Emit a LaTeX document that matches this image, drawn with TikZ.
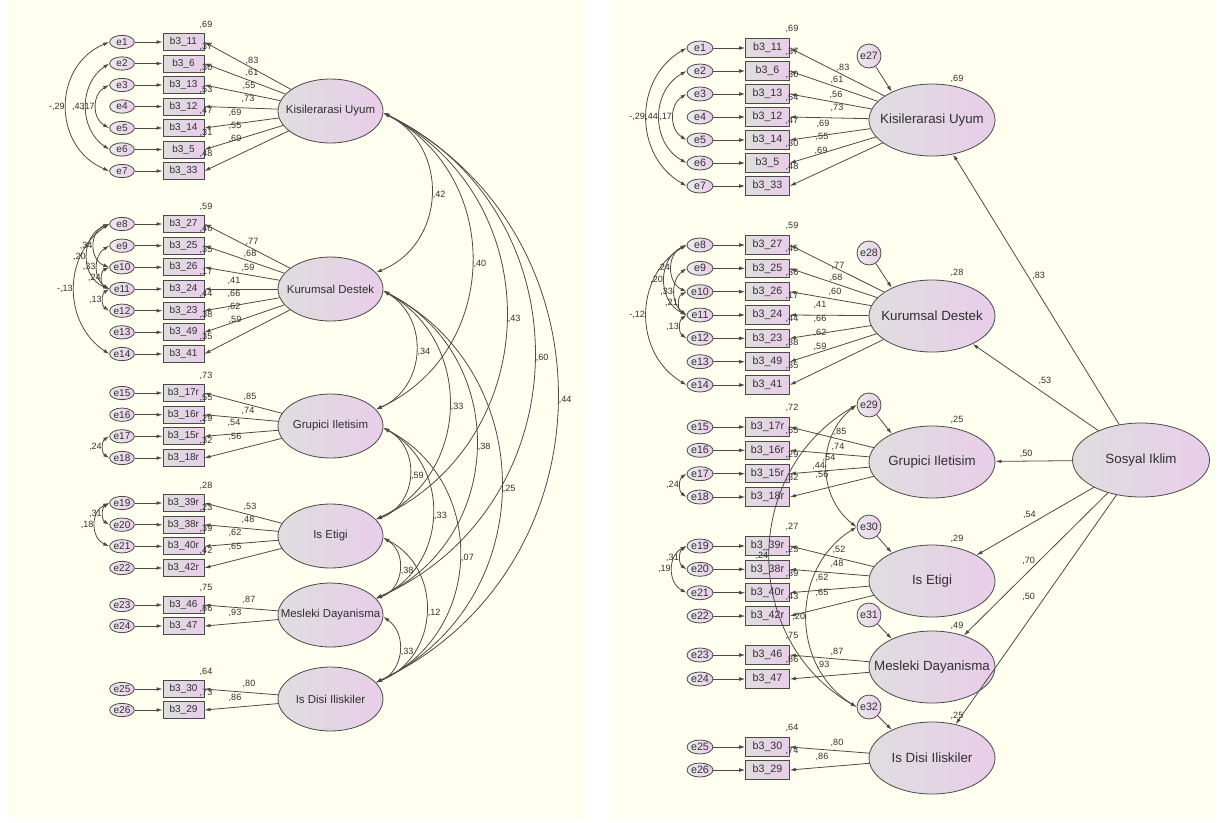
\documentclass[tikz,border=0pt]{standalone}
\usepackage{fontspec}
\setmainfont{Liberation Sans}
\usetikzlibrary{shapes.geometric,arrows.meta}
\definecolor{bgc}{HTML}{FFFFF0}
\definecolor{linec}{HTML}{4A4A4A}
\definecolor{fillL}{HTML}{DEDEDE}
\definecolor{fillR}{HTML}{E9CDE9}
\definecolor{txtc}{HTML}{303030}
\tikzset{
  ln/.style={draw=linec, line width=0.6pt},
  arr/.style={ln, ->},
  cov/.style={ln, <->},
  lat/.style={ellipse, draw=linec, line width=0.6pt, left color=fillL, right color=fillR, inner sep=0pt, inner xsep=-18pt, text=txtc},
  latL/.style={lat, minimum width=78.75pt, minimum height=48pt, font=\fontsize{8.6}{10}\selectfont},
  latR/.style={lat, minimum width=94.5pt, minimum height=54pt, font=\fontsize{10}{12}\selectfont},
  err/.style={ellipse, draw=linec, line width=0.6pt, left color=fillL!60!white, right color=fillR, inner sep=0pt, text=txtc},
  errL/.style={err, minimum width=18.5pt, minimum height=10pt, font=\fontsize{7.5}{9}\selectfont},
  errR/.style={err, minimum width=19.5pt, minimum height=10.5pt, font=\fontsize{8}{9}\selectfont},
  dist/.style={circle, draw=linec, line width=0.6pt, left color=fillL!60!white, right color=fillR, inner sep=0pt, minimum size=18pt, font=\fontsize{8}{9}\selectfont, text=txtc},
  obs/.style={rectangle, draw=linec, line width=0.6pt, left color=fillL, right color=fillR, inner sep=0pt, text=txtc},
  obsL/.style={obs, minimum width=30.75pt, minimum height=12.75pt, font=\fontsize{7.5}{9}\selectfont},
  obsR/.style={obs, minimum width=32.8pt, minimum height=13.7pt, font=\fontsize{8}{9}\selectfont},
  num/.style={inner sep=1pt, font=\fontsize{6.8}{8}\selectfont, text=txtc},
}
\begin{document}
\begin{tikzpicture}[x=0.75pt,y=0.75pt,>={Latex[length=4.5pt,width=2.8pt]}]
\useasboundingbox (0,0) rectangle (1220,-822);
\fill[white] (0,0) rectangle (1220,-822);
\fill[bgc] (8,0) rectangle (587,-818);
\fill[bgc] (610,0) rectangle (1216,-818);

% ---------------- LEFT PANEL ----------------
\foreach \i/\y/\b/\r in {1/42/11/{,69}, 2/63.5/6/{,37}, 3/85/13/{,30}, 4/106.5/12/{,53}, 5/128/14/{,47}, 6/149.5/5/{,31}, 7/171/33/{,48}, 8/224/27/{,59}, 9/245.7/25/{,46}, 10/267.3/26/{,35}, 11/289/24/{,17}, 12/310.7/23/{,44}, 13/332.3/49/{,38}, 14/354/41/{,35}, 15/393/17r/{,73}, 16/414.7/16r/{,55}, 17/436.3/15r/{,29}, 18/458/18r/{,32}, 19/503/39r/{,28}, 20/524.7/38r/{,23}, 21/546.3/40r/{,39}, 22/568/42r/{,42}, 23/605/46/{,75}, 24/626/47/{,86}, 25/689/30/{,64}, 26/710/29/{,73}}{
  \node[errL] (Le\i) at (122,-\y) {e\i};
  \node[obsL] (Lb\i) at (183.5,-\y) {b3\_\b};
  \node[num] (Lr\i) at (206,-\y+17) {\r};
  \draw[arr] (Le\i) -- (Lb\i);
}
\node[latL] (LK) at (330.5,-111) {Kisilerarasi Uyum};
\node[latL] (LKD) at (330.5,-289) {Kurumsal Destek};
\node[latL] (LG) at (330.5,-426) {Grupici Iletisim};
\node[latL] (LIE) at (330.5,-536) {Is Etigi};
\node[latL] (LM) at (330.5,-615) {Mesleki Dayanisma};
\node[latL] (LID) at (330.5,-699) {Is Disi Iliskiler};

\foreach \L/\i/\x/\y/\t in {LK/1/252/61/{,83}, LK/2/252/73/{,61}, LK/3/249/86/{,55}, LK/4/248/99/{,73}, LK/5/235/113/{,69}, LK/6/235/126/{,55}, LK/7/235/139/{,69}, LKD/8/252/242/{,77}, LKD/9/250/254/{,68}, LKD/10/248/268/{,59}, LKD/11/234/281/{,41}, LKD/12/234/294/{,66}, LKD/13/234/307/{,62}, LKD/14/235/320/{,59}, LG/15/250/397/{,85}, LG/16/248/411/{,74}, LG/17/234/423/{,54}, LG/18/235/437/{,56}, LIE/19/250/507/{,53}, LIE/20/248/520/{,48}, LIE/21/235/533/{,62}, LIE/22/235/547/{,65}, LM/23/249/600/{,87}, LM/24/235/613/{,93}, LID/25/249/684/{,80}, LID/26/235/698/{,86}}{
  \draw[arr] (\L) -- (Lb\i.east);
  \node[num] (Ll\i) at (\x,-\y) {\t};
}

\foreach \cA/\cB/\cL/\cH/\cT in {LK/LKD/161/52/{,42}, LK/LG/299/93/{,40}, LK/LIE/408/127/{,43}, LK/LM/487/155/{,60}, LK/LID/571/178/{,44}, LKD/LG/121/37/{,34}, LKD/LIE/230/70/{,33}, LKD/LM/309/97/{,38}, LKD/LID/393/122/{,25}, LG/LIE/92/30/{,59}, LG/LM/171/53/{,33}, LG/LID/255/80/{,07}, LIE/LM/62/20/{,38}, LIE/LID/146/47/{,12}, LM/LID/67/20/{,33}}{
  \pgfmathsetmacro\cAl{2*atan(2*\cH/\cL)}
  \pgfmathsetmacro\cLo{0.8514/(cos(\cAl/2))^2}
  \draw[cov] (\cA.-2) to[bend left=\cAl, looseness=\cLo] node[num, midway, right] (cv\cA\cB) {\cT} (\cB.20);
}

\foreach \cA/\cB/\cL/\cH/\cT in {Le1/Le7/129/43/{-,29}, Le2/Le6/86/23/{,43}, Le3/Le5/43/13/{,17}, Le8/Le14/130/35/{-,13}, Le8/Le10/43/15/{,34}, Le8/Le11/65/22/{,20}, Le9/Le11/43/12/{,33}, Le10/Le11/22/7/{,24}, Le11/Le12/22/6/{,13}, Le17/Le18/22/6/{,24}, Le19/Le20/22/6/{,31}, Le19/Le21/43/14/{,18}}{
  \pgfmathsetmacro\cAl{2*atan(2*\cH/\cL)}
  \pgfmathsetmacro\cLo{0.8514/(cos(\cAl/2))^2}
  \draw[cov] (\cA.west) to[bend right=\cAl, looseness=\cLo] node[num, midway, left] (cv\cA\cB) {\cT} (\cB.west);
}

% ---------------- RIGHT PANEL ----------------
\foreach \i/\y/\b/\r in {1/48/11/{,69}, 2/71/6/{,37}, 3/94/13/{,30}, 4/117/12/{,54}, 5/140/14/{,47}, 6/163/5/{,30}, 7/186/33/{,48}, 8/245/27/{,59}, 9/268.3/25/{,45}, 10/291.7/26/{,36}, 11/315/24/{,17}, 12/338.3/23/{,44}, 13/361.7/49/{,38}, 14/385/41/{,35}, 15/427/17r/{,72}, 16/450.3/16r/{,55}, 17/473.7/15r/{,29}, 18/497/18r/{,32}, 19/546/39r/{,27}, 20/569.3/38r/{,23}, 21/592.7/40r/{,39}, 22/616/42r/{,43}, 23/655/46/{,75}, 24/679/47/{,86}, 25/747/30/{,64}, 26/770/29/{,74}}{
  \node[errR] (Re\i) at (700,-\y) {e\i};
  \node[obsR] (Rb\i) at (767.5,-\y) {b3\_\b};
  \node[num] (Rr\i) at (792,-\y+19) {\r};
  \draw[arr] (Re\i) -- (Rb\i);
}
\node[latR] (RK) at (932,-120) {Kisilerarasi Uyum};
\node[latR] (RKD) at (932,-316) {Kurumsal Destek};
\node[latR] (RG) at (932,-462) {Grupici Iletisim};
\node[latR] (RIE) at (932,-581) {Is Etigi};
\node[latR] (RM) at (932,-667) {Mesleki Dayanisma};
\node[latR] (RID) at (932,-758) {Is Disi Iliskiler};
\node[latR, minimum width=102.75pt, minimum height=55.5pt] (RS) at (1141,-460) {Sosyal Iklim};

\foreach \L/\y/\t in {RK/79/{,69}, RKD/273/{,28}, RG/420/{,25}, RIE/539/{,29}, RM/626/{,49}, RID/716/{,25}}{
  \node[num] (r2\L) at (957,-\y) {\t};
}

\foreach \L/\i/\x/\y/\t in {RK/1/843/68/{,83}, RK/2/837/80/{,61}, RK/3/836/95/{,56}, RK/4/837/108/{,73}, RK/5/823/124/{,69}, RK/6/822/137/{,55}, RK/7/821/151/{,69}, RKD/8/838/266/{,77}, RKD/9/836/278/{,68}, RKD/10/835/292/{,60}, RKD/11/820/305/{,41}, RKD/12/820/319/{,66}, RKD/13/820/333/{,62}, RKD/14/820/347/{,59}, RG/15/840/432/{,85}, RG/16/838/447/{,74}, RG/17/829/458/{,54}, RG/18/822/475/{,56}, RIE/19/839/550/{,52}, RIE/20/837/564/{,48}, RIE/21/822/578/{,62}, RIE/22/822/593/{,65}, RM/23/837/652/{,87}, RM/24/823/665/{,93}, RID/25/837/743/{,80}, RID/26/822/757/{,86}}{
  \draw[arr] (\L) -- (Rb\i.east);
  \node[num] (Rl\i) at (\x,-\y) {\t};
}

\foreach \n/\y/\t in {27/56/RK, 28/253/RKD, 29/405/RG, 30/527/RIE, 31/615/RM, 32/707/RID}{
  \node[dist] (Re\n) at (869,-\y) {e\n};
  \draw[arr] (Re\n) -- (\t.145);
}

\foreach \cA/\cB/\cL/\cH/\cT in {Re1/Re7/138/40/{-,29}, Re2/Re6/92/27/{,44}, Re3/Re5/46/13/{,17}, Re8/Re14/140/40/{-,12}, Re8/Re10/47/15/{,24}, Re8/Re11/70/22/{,20}, Re9/Re11/47/12/{,33}, Re10/Re11/23/7/{,21}, Re11/Re12/23/6/{,13}, Re17/Re18/23/6/{,24}, Re19/Re20/23/6/{,31}, Re19/Re21/46/14/{,19}, Re29/Re30/122/30/{,44}, Re29/Re32/302/87/{,24}, Re30/Re32/180/50/{,20}}{
  \pgfmathsetmacro\cAl{2*atan(2*\cH/\cL)}
  \pgfmathsetmacro\cLo{0.8514/(cos(\cAl/2))^2}
  \draw[cov] (\cA.west) to[bend right=\cAl, looseness=\cLo] node[num, midway, left] (cv\cA\cB) {\cT} (\cB.west);
}

\draw[arr] (RS) -- (RK) node[num, pos=0.55, right=2pt] (sK) {,83};
\draw[arr] (RS) -- (RKD) node[num, pos=0.5, above right=1pt] (sKD) {,53};
\draw[arr] (RS) -- (RG) node[num, pos=0.6, above=1pt] (sG) {,50};
\draw[arr] (RS) -- (RIE) node[num, pos=0.55, above=3pt] (sIE) {,54};
\draw[arr] (RS) -- (RM) node[num, pos=0.55, above=4pt] (sM) {,70};
\draw[arr] (RS) -- (RID) node[num, pos=0.48, above left=2pt] (sID) {,50};
\end{tikzpicture}
\end{document}
